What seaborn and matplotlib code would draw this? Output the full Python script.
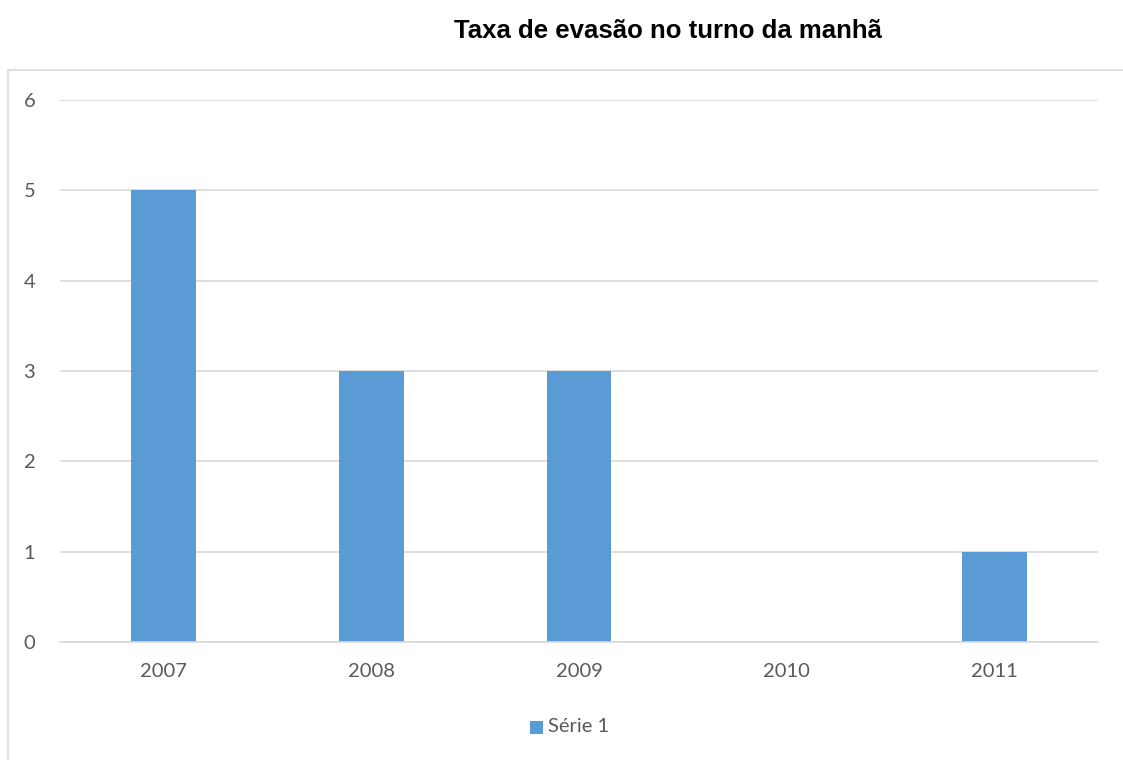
import pandas as pd
import matplotlib.pyplot as plt
import seaborn as sns
from matplotlib.patches import Rectangle

# values
ANOS = ["2007", "2008", "2009", "2010", "2011"]
EVASAO = [5, 3, 3, 0, 1]
SERIE = "Série 1"

COR_BARRA = "#5b9bd5"
COR_GRADE = "#d9d9d9"
COR_TEXTO = "#595959"

df = pd.DataFrame({"ano": ANOS, "evasao": EVASAO, "serie": SERIE})

sns.set_style("white")
plt.rcParams["font.family"] = ["Lato", "DejaVu Sans"]

fig = plt.figure(figsize=(11.23, 7.6), dpi=100)
ax = fig.add_axes([60 / 1123, 118 / 760, 1038 / 1123, 542 / 760])

sns.barplot(data=df, x="ano", y="evasao", hue="serie", order=ANOS,
            palette=[COR_BARRA], width=0.313, dodge=False, legend=False,
            saturation=1, linewidth=0, edgecolor="none", ax=ax)

ax.set_xlim(-0.5, len(ANOS) - 0.5)
ax.set_ylim(0, 6)
ax.set_yticks(range(0, 7))
ax.set_xlabel("")
ax.set_ylabel("")
ax.yaxis.grid(True, color=COR_GRADE, linewidth=1.2)
ax.set_axisbelow(True)
for side in ["top", "right", "left"]:
    ax.spines[side].set_visible(False)
ax.spines["bottom"].set_color(COR_GRADE)
ax.spines["bottom"].set_linewidth(1.2)
ax.tick_params(axis="both", length=0, labelsize=14.5, colors=COR_TEXTO)
ax.tick_params(axis="y", pad=22)
ax.tick_params(axis="x", pad=15)
for lab in ax.get_yticklabels():
    lab.set_horizontalalignment("center")

# outer chart frame
fig.patches.append(Rectangle((8 / 1123, -0.01), 1.0, 1 - 70 / 760 + 0.01,
                             transform=fig.transFigure, fill=False,
                             edgecolor=COR_GRADE, linewidth=1.2))

fig.text(668 / 1123, 1 - 31 / 760, "Taxa de evasão no turno da manhã",
         ha="center", va="center", fontsize=18.5, fontweight="bold",
         family=["Liberation Sans", "DejaVu Sans"], color="black")

# legend
fig.patches.append(Rectangle((530 / 1123, 1 - 734 / 760), 13 / 1123, 13 / 760,
                             transform=fig.transFigure, facecolor=COR_BARRA,
                             edgecolor="none"))
fig.text(548 / 1123, 1 - 727 / 760, SERIE, ha="left", va="center",
         fontsize=14.5, color=COR_TEXTO)

fig.savefig("out.png", dpi=100)
